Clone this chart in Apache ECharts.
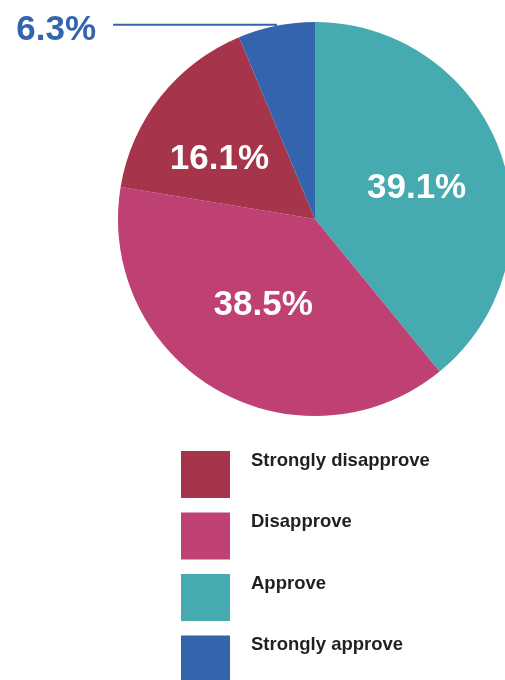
<!DOCTYPE html>
<html>
<head>
<meta charset="utf-8">
<script src="https://cdn.jsdelivr.net/npm/echarts@6/dist/echarts.min.js"></script>
<style>
  html, body { margin: 0; padding: 0; background: #ffffff; }
  #chart { width: 505px; height: 680px; }
</style>
</head>
<body>
<div id="chart"></div>
<script>
// Share of responses, in percent (clockwise from 12 o'clock)
const categories = ['Approve', 'Disapprove', 'Strongly disapprove', 'Strongly approve'];
const shares = [39.1, 38.5, 16.1, 6.3];
const legendOrder = ['Strongly disapprove', 'Disapprove', 'Approve', 'Strongly approve'];

const colors = {
  'Approve': '#46abb0',
  'Disapprove': '#bf4072',
  'Strongly disapprove': '#a6344b',
  'Strongly approve': '#3464ae'
};

// small nudges for the in-slice labels
const labelNudge = {
  'Approve': { dx: 6, dy: 3 },
  'Disapprove': { dx: -1, dy: -2 },
  'Strongly disapprove': { dx: -16, dy: 3 }
};

const FONT = '"Liberation Sans", Arial, Helvetica, sans-serif';

const data = categories.map((name, i) => {
  const item = { name: name, value: shares[i], itemStyle: { color: colors[name] } };
  if (name === 'Strongly approve') {
    item.label = {
      position: 'outside',
      // a tall blank token lets the value sit slightly below the leader line
      formatter: '{v|{c}%}{s| }',
      rich: {
        v: {
          fontFamily: FONT, fontWeight: 'bold', fontSize: 35, lineHeight: 36,
          color: '#3464ae', verticalAlign: 'bottom'
        },
        s: { width: 1, height: 45, fontSize: 10 }
      },
      distanceToLabelLine: 16
    };
    item.labelLine = {
      show: true,
      length: 1,
      length2: 163,
      lineStyle: { color: '#3464ae', width: 2 }
    };
  }
  return item;
});

const chart = echarts.init(document.getElementById('chart'), null, { renderer: 'canvas' });
chart.setOption({
  animation: false,
  backgroundColor: '#ffffff',
  legend: {
    orient: 'vertical',
    left: 181,
    top: 451,
    height: 300,
    padding: 0,
    data: legendOrder,
    itemWidth: 49,
    itemHeight: 47,
    itemGap: 14.5,
    icon: 'rect',
    selectedMode: false,
    // name is top-aligned against a blank token as tall as the swatch
    formatter: function (name) { return '{t|' + name + '}{s| }'; },
    textStyle: {
      padding: [0, 0, 0, 16],
      rich: {
        t: {
          fontFamily: FONT, fontWeight: 'bold', fontSize: 18.5, lineHeight: 17,
          color: '#231f20', verticalAlign: 'top'
        },
        s: { width: 1, height: 47, fontSize: 10 }
      }
    }
  },
  series: [{
    type: 'pie',
    center: [315, 219],
    radius: 197,
    startAngle: 90,
    clockwise: true,
    avoidLabelOverlap: false,
    silent: true,
    label: {
      show: true,
      position: 'inside',
      formatter: '{c}%',
      fontFamily: FONT,
      fontWeight: 'bold',
      fontSize: 35,
      color: '#ffffff'
    },
    labelLine: { show: false },
    labelLayout: function (params) {
      const n = labelNudge[categories[params.dataIndex]];
      return n ? { dx: n.dx, dy: n.dy } : {};
    },
    data: data
  }]
});
</script>
</body>
</html>
